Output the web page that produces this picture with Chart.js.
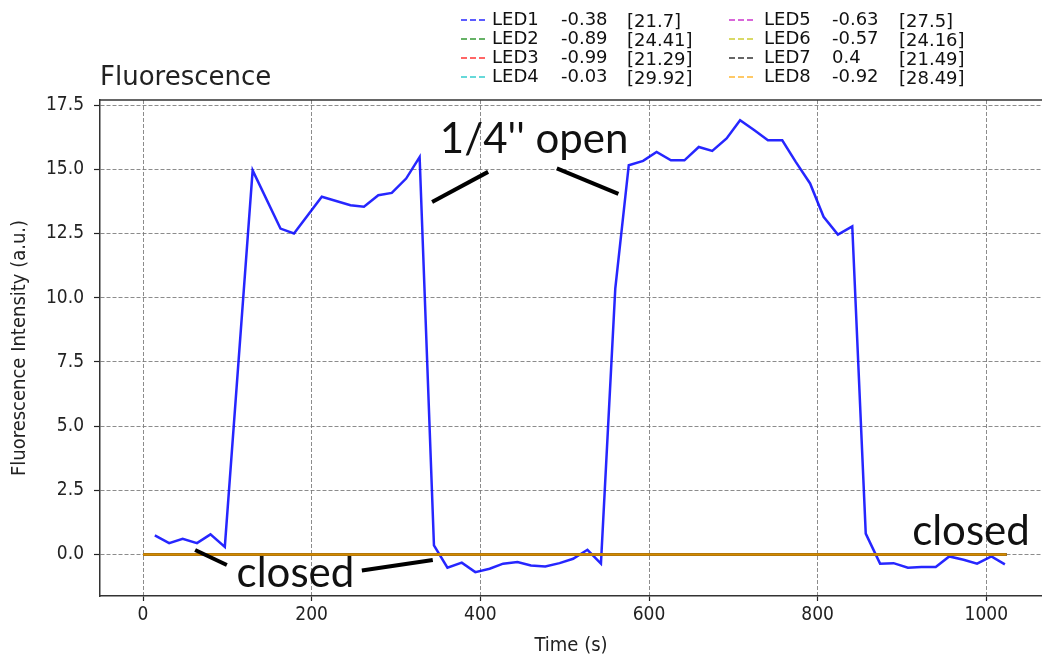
<!DOCTYPE html>
<html><head><meta charset="utf-8">
<script src="https://cdn.jsdelivr.net/npm/chart.js@4.4.1/dist/chart.umd.min.js"></script>
<style>html,body{margin:0;padding:0;background:#fff;overflow:hidden}canvas{display:block}</style>
</head><body>
<canvas id="c" width="1042" height="658"></canvas>
<script>
// ---- data ----
const timeS = [14,31,47,64,80,97,130,163,179,212,246,262,279,295,312,328,345,361,378,394,411,427,444,460,477,494,510,527,543,560,576,593,609,626,642,659,675,692,708,725,741,758,774,791,807,824,841,857,874,890,907,923,940,956,973,989,1006,1022];
const led1 = [0.74,0.44,0.61,0.44,0.78,0.29,14.96,12.69,12.5,13.93,13.6,13.54,13.99,14.08,14.64,15.48,0.35,-0.52,-0.32,-0.69,-0.56,-0.36,-0.30,-0.43,-0.47,-0.34,-0.17,0.18,-0.36,10.35,15.16,15.33,15.68,15.35,15.35,15.87,15.72,16.2,16.91,16.52,16.13,16.13,15.29,14.45,13.15,12.46,12.78,0.81,-0.36,-0.34,-0.52,-0.49,-0.49,-0.08,-0.21,-0.36,-0.08,-0.39];
const offTime = [0, 1024];
const led2 = [0, 0];
const led3 = [0, 0];
const led4 = [0, 0];
const led5 = [0, 0];
const led6 = [0, 0];
const led7 = [0, 0];
const led8 = [0, 0];
const ledNames = ['LED1','LED2','LED3','LED4','LED5','LED6','LED7','LED8'];
const ledSlope = [-0.38,-0.89,-0.99,-0.03,-0.63,-0.57,0.4,-0.92];
const ledPeak = [21.7,24.41,21.29,29.92,27.5,24.16,21.49,28.49];
const xTicks = [0,200,400,600,800,1000];
const yTicks = [0,2.5,5,7.5,10,12.5,15,17.5];
const notes = ["1/4'' open", 'closed', 'closed'];

// ---- styling / placement (not data) ----
const ledColors = ['rgba(0,0,255,0.85)','rgba(0,128,0,0.8)','rgba(255,0,0,0.8)','rgba(0,191,191,0.8)','rgba(191,0,191,0.8)','rgba(191,191,0,0.8)','rgba(0,0,0,0.8)','rgba(255,165,0,0.8)'];
const noteAt = [[352,15.63],[111,-1.26],[912,0.37]];
const pointerAt = [
  [[342.8,13.73],[409.2,14.9]],
  [[490.7,15.04],[563.7,14.04]],
  [[61.8,0.17],[99.4,-0.41]],
  [[259.5,-0.63],[343.6,-0.22]]
];

const series = [[timeS, led1],[offTime, led2],[offTime, led3],[offTime, led4],[offTime, led5],[offTime, led6],[offTime, led7],[offTime, led8]];
const datasets = series.map(([t, v], i) => ({
  label: ledNames[i],
  data: t.map((x, j) => ({x, y: v[j]})),
  borderColor: ledColors[i],
  borderWidth: 2.5,
  pointRadius: 0,
  showLine: true,
  fill: false,
  tension: 0,
  order: series.length - 1 - i
}));

const tickFont = {family: "'DejaVu Sans Condensed', 'DejaVu Sans'", size: 19};
const titleFont = {family: "'DejaVu Sans Condensed', 'DejaVu Sans'", size: 20};

const overlay = {
  id: 'overlay',
  afterDraw(chart) {
    const {ctx, chartArea: a, scales: {x, y}} = chart;
    ctx.save();
    // top spine
    ctx.strokeStyle = '#333'; ctx.lineWidth = 1.5;
    ctx.beginPath(); ctx.moveTo(a.left, a.top); ctx.lineTo(a.right, a.top); ctx.stroke();
    // title
    ctx.fillStyle = '#222';
    ctx.font = "26px 'DejaVu Sans'";
    ctx.textBaseline = 'alphabetic'; ctx.textAlign = 'left';
    ctx.fillText('Fluorescence', a.left, a.top - 15.5);
    // legend
    const cols = [{sw:461,name:492,slope:561,peak:627},{sw:729,name:764,slope:832,peak:899}];
    const rows = [20, 39, 58, 77];
    ctx.font = "18px 'DejaVu Sans'";
    ctx.textBaseline = 'middle';
    ledNames.forEach((n, i) => {
      const c = cols[Math.floor(i / 4)], ry = rows[i % 4];
      ctx.save();
      ctx.strokeStyle = ledColors[i]; ctx.lineWidth = 1.5; ctx.setLineDash([6,3]);
      ctx.beginPath(); ctx.moveTo(c.sw, ry); ctx.lineTo(c.sw + 25, ry); ctx.stroke();
      ctx.restore();
      ctx.fillStyle = '#111';
      ctx.fillText(n, c.name, ry);
      ctx.fillText(String(ledSlope[i]), c.slope, ry);
      ctx.fillText('[' + ledPeak[i] + ']', c.peak, ry + 2);
    });
    // annotation pointers
    ctx.strokeStyle = '#000'; ctx.lineWidth = 4; ctx.lineCap = 'butt';
    pointerAt.forEach(([p, q]) => {
      ctx.beginPath();
      ctx.moveTo(x.getPixelForValue(p[0]), y.getPixelForValue(p[1]));
      ctx.lineTo(x.getPixelForValue(q[0]), y.getPixelForValue(q[1]));
      ctx.stroke();
    });
    // annotation text
    ctx.font = "42px Lato";
    ctx.textBaseline = 'alphabetic'; ctx.fillStyle = '#111';
    notes.forEach((t, i) => {
      ctx.fillText(t, x.getPixelForValue(noteAt[i][0]), y.getPixelForValue(noteAt[i][1]));
    });
    ctx.restore();
  }
};

new Chart(document.getElementById('c'), {
  type: 'scatter',
  data: {datasets},
  options: {
    responsive: false,
    animation: false,
    events: [],
    layout: {padding: {top: 100, left: 0, right: 0, bottom: 0}},
    plugins: {legend: {display: false}, title: {display: false}, tooltip: {enabled: false}},
    scales: {
      x: {
        type: 'linear', min: -51, max: 1066,
        afterBuildTicks: s => { s.ticks = xTicks.map(v => ({value: v})); },
        afterFit: s => { s.height = 62; },
        ticks: {font: tickFont, color: '#222', padding: 3, maxRotation: 0, callback: v => String(v)},
        grid: {color: 'rgba(120,120,120,0.85)', lineWidth: 1, tickLength: 5, tickColor: '#222', tickWidth: 1.2, tickBorderDash: []},
        border: {display: true, color: '#333', width: 1.5, dash: [4, 2]},
        title: {display: true, text: 'Time (s)', font: titleFont, color: '#222', padding: {top: 0, bottom: 0}}
      },
      y: {
        type: 'linear', min: -1.62, max: 17.7,
        afterBuildTicks: s => { s.ticks = yTicks.map(v => ({value: v})); },
        afterFit: s => { s.width = 100; },
        ticks: {font: tickFont, color: '#222', padding: 10, callback: v => Number(v).toFixed(1)},
        grid: {color: 'rgba(120,120,120,0.85)', lineWidth: 1, tickLength: 6, tickColor: '#222', tickWidth: 1.2, tickBorderDash: []},
        border: {display: true, color: '#333', width: 1.5, dash: [4, 2]},
        title: {display: true, text: 'Fluorescence Intensity (a.u.)', font: titleFont, color: '#222', padding: {top: 8, bottom: 0}}
      }
    }
  },
  plugins: [overlay]
});
</script>
</body></html>
